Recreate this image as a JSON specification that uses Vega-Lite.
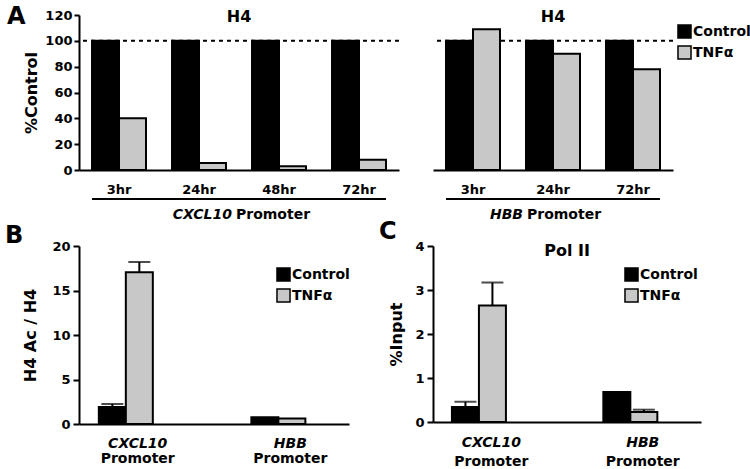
{
  "$schema": "https://vega.github.io/schema/vega-lite/v6.json",
  "background": "white",
  "padding": {"left": 5, "top": 4, "right": 0, "bottom": 0},
  "autosize": {"type": "pad"},
  "datasets": {
    "cxcl10H4": [
      {"time": "3hr", "treatment": "Control", "value": 100},
      {"time": "3hr", "treatment": "TNFα", "value": 40},
      {"time": "24hr", "treatment": "Control", "value": 100},
      {"time": "24hr", "treatment": "TNFα", "value": 5.5},
      {"time": "48hr", "treatment": "Control", "value": 100},
      {"time": "48hr", "treatment": "TNFα", "value": 3},
      {"time": "72hr", "treatment": "Control", "value": 100},
      {"time": "72hr", "treatment": "TNFα", "value": 8}
    ],
    "hbbH4": [
      {"time": "3hr", "treatment": "Control", "value": 100},
      {"time": "3hr", "treatment": "TNFα", "value": 109},
      {"time": "24hr", "treatment": "Control", "value": 100},
      {"time": "24hr", "treatment": "TNFα", "value": 90},
      {"time": "72hr", "treatment": "Control", "value": 100},
      {"time": "72hr", "treatment": "TNFα", "value": 78}
    ],
    "h4ac": [
      {"promoter": "CXCL10", "treatment": "Control", "value": 1.9, "upper": 2.25},
      {"promoter": "CXCL10", "treatment": "TNFα", "value": 17.05, "upper": 18.2},
      {"promoter": "HBB", "treatment": "Control", "value": 0.75, "upper": null},
      {"promoter": "HBB", "treatment": "TNFα", "value": 0.62, "upper": null}
    ],
    "pol2": [
      {"promoter": "CXCL10", "treatment": "Control", "value": 0.34, "upper": 0.46},
      {"promoter": "CXCL10", "treatment": "TNFα", "value": 2.65, "upper": 3.17},
      {"promoter": "HBB", "treatment": "Control", "value": 0.68, "upper": null},
      {"promoter": "HBB", "treatment": "TNFα", "value": 0.23, "upper": 0.28}
    ],
    "promoterLabels": [
      {"promoter": "CXCL10", "label": "Promoter"},
      {"promoter": "HBB", "label": "Promoter"}
    ]
  },
  "config": {
    "view": {"stroke": null},
    "font": "DejaVu Sans",
    "axis": {
      "grid": false,
      "domainColor": "black",
      "domainWidth": 2,
      "tickColor": "black",
      "tickWidth": 2,
      "tickSize": 5,
      "labelFont": "DejaVu Sans",
      "labelFontWeight": "bold",
      "labelFontSize": 13,
      "labelColor": "black",
      "labelOverlap": false,
      "titleFont": "DejaVu Sans",
      "titleFontWeight": "bold",
      "titleFontSize": 16,
      "titleColor": "black"
    },
    "legend": {
      "symbolType": "square",
      "symbolSize": 170,
      "symbolStrokeColor": "black",
      "symbolStrokeWidth": 1.5,
      "labelFont": "DejaVu Sans",
      "labelFontWeight": "bold",
      "labelFontSize": 14,
      "labelColor": "black",
      "labelOffset": 1,
      "rowPadding": 0,
      "padding": 0
    },
    "title": {
      "font": "DejaVu Sans",
      "fontWeight": "bold",
      "fontSize": 24,
      "color": "black",
      "anchor": "start",
      "frame": "group",
      "baseline": "alphabetic",
      "offset": 0
    }
  },
  "columns": 2,
  "spacing": {"row": 76, "column": 34},
  "bounds": "flush",
  "resolve": {"scale": {"color": "independent"}, "legend": {"color": "independent"}},
  "concat": [
    {
      "width": 320,
      "height": 155,
      "title": {"text": "A", "dx": -72, "dy": 23.5},
      "layer": [
        {
          "data": {"name": "cxcl10H4"},
          "mark": {"type": "bar", "stroke": "black", "strokeWidth": 2},
          "encoding": {
            "x": {
              "field": "time", "type": "nominal", "sort": ["3hr", "24hr", "48hr", "72hr"],
              "scale": {"domain": ["3hr", "24hr", "48hr", "72hr"], "paddingInner": 0.325, "paddingOuter": 0.1625},
              "axis": {"title": null, "ticks": false, "labelPadding": 13, "labelAngle": 0}
            },
            "xOffset": {"field": "treatment", "type": "nominal", "sort": ["Control", "TNFα"], "scale": {"paddingInner": 0, "paddingOuter": 0}},
            "y": {
              "field": "value", "type": "quantitative",
              "scale": {"domain": [0, 120], "nice": false},
              "axis": {"title": "%Control", "values": [0, 20, 40, 60, 80, 100, 120], "tickCount": 7, "labelOverlap": false, "labelPadding": 2, "titlePadding": 5}
            },
            "color": {
              "field": "treatment", "type": "nominal",
              "scale": {"domain": ["Control", "TNFα"], "range": ["#000000", "#c8c8c8"]},
              "legend": null
            }
          }
        },
        {
          "data": {"values": [{}]},
          "mark": {"type": "rule", "strokeDash": [4, 4], "strokeWidth": 2, "color": "black"},
          "encoding": {"y": {"datum": 100, "type": "quantitative", "axis": {"title": "%Control", "values": [0, 20, 40, 60, 80, 100, 120], "tickCount": 7, "labelOverlap": false, "labelPadding": 2, "titlePadding": 5}}}
        },
        {
          "data": {"values": [{"from": "3hr", "to": "72hr"}]},
          "mark": {"type": "rule", "strokeWidth": 2, "color": "black", "clip": false},
          "encoding": {
            "x": {"field": "from", "type": "nominal", "bandPosition": 0},
            "x2": {"field": "to", "bandPosition": 1},
            "y": {"datum": -22.5, "type": "quantitative", "axis": {"title": "%Control", "values": [0, 20, 40, 60, 80, 100, 120], "tickCount": 7, "labelOverlap": false, "labelPadding": 2, "titlePadding": 5}}
          }
        },
        {
          "data": {"values": [{"time": "24hr", "label": "CXCL10"}]},
          "mark": {"type": "text", "font": "DejaVu Sans", "fontWeight": "bold", "fontStyle": "italic", "fontSize": 14, "align": "right", "baseline": "middle", "dx": 6, "clip": false},
          "encoding": {
            "x": {"field": "time", "type": "nominal", "bandPosition": 1},
            "y": {"datum": -34.8, "type": "quantitative", "axis": {"title": "%Control", "values": [0, 20, 40, 60, 80, 100, 120], "tickCount": 7, "labelOverlap": false, "labelPadding": 2, "titlePadding": 5}},
            "text": {"field": "label"}
          }
        },
        {
          "data": {"values": [{"time": "24hr", "label": "Promoter"}]},
          "mark": {"type": "text", "font": "DejaVu Sans", "fontWeight": "bold", "fontSize": 14, "align": "left", "baseline": "middle", "dx": 10, "clip": false},
          "encoding": {
            "x": {"field": "time", "type": "nominal", "bandPosition": 1},
            "y": {"datum": -34.8, "type": "quantitative", "axis": {"title": "%Control", "values": [0, 20, 40, 60, 80, 100, 120], "tickCount": 7, "labelOverlap": false, "labelPadding": 2, "titlePadding": 5}},
            "text": {"field": "label"}
          }
        },
        {
          "data": {"values": [{"label": "H4"}]},
          "mark": {"type": "text", "font": "DejaVu Sans", "fontWeight": "bold", "fontSize": 16, "baseline": "middle", "dy": 2},
          "encoding": {
            "y": {"datum": 120, "type": "quantitative", "axis": {"title": "%Control", "values": [0, 20, 40, 60, 80, 100, 120], "tickCount": 7, "labelOverlap": false, "labelPadding": 2, "titlePadding": 5}},
            "text": {"field": "label"}
          }
        }
      ]
    },
    {
      "width": 240,
      "height": 155,
      "layer": [
        {
          "data": {"values": [{}]},
          "mark": {"type": "rule", "strokeDash": [4, 4], "strokeWidth": 2, "color": "black"},
          "encoding": {"y": {"datum": 100, "type": "quantitative", "axis": null}}
        },
        {
          "data": {"name": "hbbH4"},
          "mark": {"type": "bar", "stroke": "black", "strokeWidth": 2},
          "encoding": {
            "x": {
              "field": "time", "type": "nominal", "sort": ["3hr", "24hr", "72hr"],
              "scale": {"domain": ["3hr", "24hr", "72hr"], "paddingInner": 0.325, "paddingOuter": 0.1625},
              "axis": {"title": null, "ticks": false, "labelPadding": 13, "labelAngle": 0}
            },
            "xOffset": {"field": "treatment", "type": "nominal", "sort": ["Control", "TNFα"], "scale": {"paddingInner": 0, "paddingOuter": 0}},
            "y": {
              "field": "value", "type": "quantitative",
              "scale": {"domain": [0, 120], "nice": false},
              "axis": null
            },
            "color": {
              "field": "treatment", "type": "nominal",
              "scale": {"domain": ["Control", "TNFα"], "range": ["#000000", "#c8c8c8"]},
              "legend": {"title": null, "orient": "none", "legendX": 244, "legendY": 9}
            }
          }
        },
        {
          "data": {"values": [{"from": "3hr", "to": "72hr"}]},
          "mark": {"type": "rule", "strokeWidth": 2, "color": "black", "clip": false},
          "encoding": {
            "x": {"field": "from", "type": "nominal", "bandPosition": 0},
            "x2": {"field": "to", "bandPosition": 1},
            "y": {"datum": -22.5, "type": "quantitative", "axis": null}
          }
        },
        {
          "data": {"values": [{"time": "24hr", "label": "HBB"}]},
          "mark": {"type": "text", "font": "DejaVu Sans", "fontWeight": "bold", "fontStyle": "italic", "fontSize": 14, "align": "right", "baseline": "middle", "dx": -30, "clip": false},
          "encoding": {
            "x": {"field": "time", "type": "nominal"},
            "y": {"datum": -34.8, "type": "quantitative", "axis": null},
            "text": {"field": "label"}
          }
        },
        {
          "data": {"values": [{"time": "24hr", "label": "Promoter"}]},
          "mark": {"type": "text", "font": "DejaVu Sans", "fontWeight": "bold", "fontSize": 14, "align": "left", "baseline": "middle", "dx": -26, "clip": false},
          "encoding": {
            "x": {"field": "time", "type": "nominal"},
            "y": {"datum": -34.8, "type": "quantitative", "axis": null},
            "text": {"field": "label"}
          }
        },
        {
          "data": {"values": [{"label": "H4"}]},
          "mark": {"type": "text", "font": "DejaVu Sans", "fontWeight": "bold", "fontSize": 16, "baseline": "middle", "dy": 2},
          "encoding": {
            "y": {"datum": 120, "type": "quantitative", "axis": null},
            "text": {"field": "label"}
          }
        }
      ]
    },
    {
      "width": 270,
      "height": 178,
      "title": {"text": "B", "dx": -74, "dy": 11.5},
      "layer": [
        {
          "data": {"name": "h4ac"},
          "mark": {"type": "bar", "stroke": "black", "strokeWidth": 2},
          "encoding": {
            "x": {
              "field": "promoter", "type": "nominal", "sort": ["CXCL10", "HBB"],
              "scale": {"domain": ["CXCL10", "HBB"], "paddingInner": 0.49, "paddingOuter": 0.13},
              "axis": {"title": null, "ticks": false, "labelPadding": 12, "labelAngle": 0, "labelFontSize": 14, "labelFontStyle": "italic"}
            },
            "xOffset": {"field": "treatment", "type": "nominal", "sort": ["Control", "TNFα"], "scale": {"paddingInner": 0, "paddingOuter": 0}},
            "y": {
              "field": "value", "type": "quantitative",
              "scale": {"domain": [0, 20], "nice": false},
              "axis": {"title": "H4 Ac / H4", "values": [0, 5, 10, 15, 20], "labelPadding": 3, "tickSize": 6, "titlePadding": 13}
            },
            "color": {
              "field": "treatment", "type": "nominal",
              "scale": {"domain": ["Control", "TNFα"], "range": ["#000000", "#c8c8c8"]},
              "legend": {"title": null, "orient": "none", "legendX": 197, "legendY": 21}
            }
          }
        },
        {
          "data": {"name": "h4ac"},
          "transform": [{"filter": "datum.upper != null"}],
          "mark": {"type": "rule", "strokeWidth": 2, "color": "black"},
          "encoding": {
            "x": {"field": "promoter", "type": "nominal"},
            "xOffset": {"field": "treatment", "type": "nominal", "sort": ["Control", "TNFα"]},
            "y": {"field": "value", "type": "quantitative"},
            "y2": {"field": "upper"}
          }
        },
        {
          "data": {"name": "h4ac"},
          "transform": [{"filter": "datum.upper != null"}],
          "mark": {"type": "tick", "size": 22, "thickness": 2, "color": "black"},
          "encoding": {
            "x": {"field": "promoter", "type": "nominal"},
            "xOffset": {"field": "treatment", "type": "nominal", "sort": ["Control", "TNFα"]},
            "y": {"field": "upper", "type": "quantitative"}
          }
        },
        {
          "data": {"name": "promoterLabels"},
          "mark": {"type": "text", "font": "DejaVu Sans", "fontWeight": "bold", "fontSize": 14, "baseline": "middle", "clip": false},
          "encoding": {
            "x": {"field": "promoter", "type": "nominal"},
            "y": {"datum": -3.95, "type": "quantitative"},
            "text": {"field": "label"}
          }
        }
      ]
    },
    {
      "width": 268,
      "height": 176,
      "title": {"text": "C", "dx": -54, "dy": 7.5},
      "layer": [
        {
          "data": {"name": "pol2"},
          "mark": {"type": "bar", "stroke": "black", "strokeWidth": 2},
          "encoding": {
            "x": {
              "field": "promoter", "type": "nominal", "sort": ["CXCL10", "HBB"],
              "scale": {"domain": ["CXCL10", "HBB"], "paddingInner": 0.48, "paddingOuter": 0.125},
              "axis": {"title": null, "ticks": false, "labelPadding": 13, "labelAngle": 0, "labelFontSize": 14, "labelFontStyle": "italic"}
            },
            "xOffset": {"field": "treatment", "type": "nominal", "sort": ["Control", "TNFα"], "scale": {"paddingInner": 0, "paddingOuter": 0}},
            "y": {
              "field": "value", "type": "quantitative",
              "scale": {"domain": [0, 4], "nice": false},
              "axis": {"title": "%Input", "values": [0, 1, 2, 3, 4], "labelPadding": 3, "tickSize": 6, "titlePadding": 10}
            },
            "color": {
              "field": "treatment", "type": "nominal",
              "scale": {"domain": ["Control", "TNFα"], "range": ["#000000", "#c8c8c8"]},
              "legend": {"title": null, "orient": "none", "legendX": 191, "legendY": 21}
            }
          }
        },
        {
          "data": {"name": "pol2"},
          "transform": [{"filter": "datum.upper != null"}],
          "mark": {"type": "rule", "strokeWidth": 2, "color": "black"},
          "encoding": {
            "x": {"field": "promoter", "type": "nominal"},
            "xOffset": {"field": "treatment", "type": "nominal", "sort": ["Control", "TNFα"]},
            "y": {"field": "value", "type": "quantitative"},
            "y2": {"field": "upper"}
          }
        },
        {
          "data": {"name": "pol2"},
          "transform": [{"filter": "datum.upper != null"}],
          "mark": {"type": "tick", "size": 22, "thickness": 2, "color": "black"},
          "encoding": {
            "x": {"field": "promoter", "type": "nominal"},
            "xOffset": {"field": "treatment", "type": "nominal", "sort": ["Control", "TNFα"]},
            "y": {"field": "upper", "type": "quantitative"}
          }
        },
        {
          "data": {"name": "promoterLabels"},
          "mark": {"type": "text", "font": "DejaVu Sans", "fontWeight": "bold", "fontSize": 14, "baseline": "middle", "clip": false},
          "encoding": {
            "x": {"field": "promoter", "type": "nominal"},
            "y": {"datum": -0.9, "type": "quantitative"},
            "text": {"field": "label"}
          }
        },
        {
          "data": {"values": [{"label": "Pol II"}]},
          "mark": {"type": "text", "font": "DejaVu Sans", "fontWeight": "bold", "fontSize": 16, "baseline": "middle", "dy": 5},
          "encoding": {
            "y": {"datum": 4, "type": "quantitative"},
            "text": {"field": "label"}
          }
        }
      ]
    }
  ]
}
